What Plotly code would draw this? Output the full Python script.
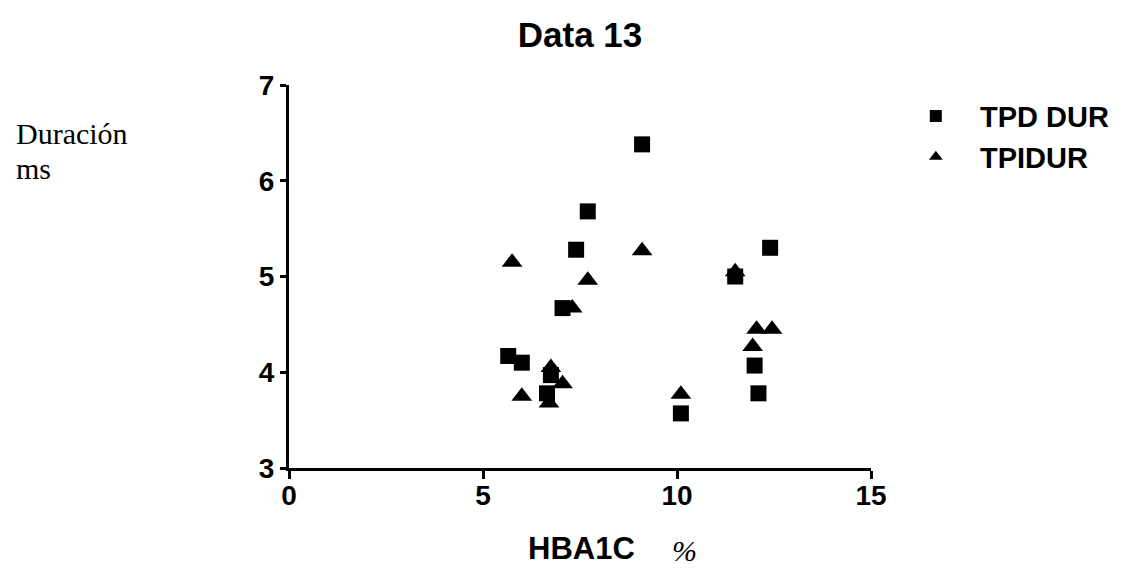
import plotly.graph_objects as go

# Data
tpd_x = [9.1, 7.7, 7.4, 12.4, 11.5, 7.05, 5.65, 6.0, 6.65, 6.75, 12.0, 12.1, 10.1]
tpd_y = [6.38, 5.68, 5.28, 5.3, 5.0, 4.67, 4.17, 4.1, 3.78, 3.97, 4.07, 3.78, 3.57]

tpi_x = [5.75, 9.1, 7.7, 7.3, 11.5, 12.05, 12.45, 11.95, 10.1, 6.0, 6.75, 7.05, 6.7]
tpi_y = [5.15, 5.27, 4.96, 4.67, 5.05, 4.45, 4.45, 4.27, 3.77, 3.75, 4.05, 3.88, 3.68]

x_ticks = [0, 5, 10, 15]
y_ticks = [3, 4, 5, 6, 7]

fig = go.Figure()
fig.add_trace(go.Scatter(
    x=tpd_x, y=tpd_y, mode="markers", name="&nbsp;&nbsp;&nbsp;<b>TPD DUR</b>",
    marker=dict(symbol="square", size=16, color="black"),
))
fig.add_trace(go.Scatter(
    x=tpi_x, y=tpi_y, mode="markers", name="&nbsp;&nbsp;&nbsp;<b>TPIDUR</b>",
    marker=dict(symbol="triangle-up", size=18, color="black"),
))

bold_font = dict(family="Arial, Liberation Sans, sans-serif", size=28, color="black")

fig.update_layout(
    width=1129, height=572,
    margin=dict(l=289, r=258, t=85, b=104),
    paper_bgcolor="white", plot_bgcolor="white",
    title=dict(text="<b>Data 13</b>", x=0.5, xref="paper", y=0.94, yref="container",
               xanchor="center", yanchor="middle",
               font=dict(family="Arial, Liberation Sans, sans-serif", size=35, color="black")),
    showlegend=True,
    legend=dict(x=1.077, y=0.985, xanchor="left", yanchor="top",
                font=dict(family="Arial, Liberation Sans, sans-serif", size=29, color="black"),
                bgcolor="rgba(0,0,0,0)", itemsizing="constant", tracegroupgap=0),
    xaxis=dict(range=[0, 15], tickvals=x_ticks, ticktext=[f"<b>{v}</b>" for v in x_ticks],
               showgrid=False, zeroline=False, showline=True, linecolor="black", linewidth=3,
               ticks="outside", ticklen=8, tickwidth=3, tickcolor="black",
               tickfont=bold_font, ticklabelstandoff=-8),
    yaxis=dict(range=[3, 7], tickvals=y_ticks, ticktext=[f"<b>{v}</b>" for v in y_ticks],
               showgrid=False, zeroline=False, showline=True, linecolor="black", linewidth=3,
               ticks="outside", ticklen=6, tickwidth=3, tickcolor="black",
               tickfont=bold_font),
)

fig.add_annotation(text="<b>HBA1C</b>", x=581, y=548, xref="paper", yref="paper",
                   xanchor="center", yanchor="middle",
                   showarrow=False, font=dict(family="Arial, Liberation Sans, sans-serif", size=31, color="black"))
fig.add_annotation(text="<i>%</i>", x=684, y=550, xref="paper", yref="paper",
                   xanchor="center", yanchor="middle",
                   showarrow=False, font=dict(family="Liberation Serif, Times New Roman, serif", size=30, color="black"))
fig.add_annotation(text="Duración", x=14, y=133, xref="paper", yref="paper",
                   xanchor="left", yanchor="middle", showarrow=False,
                   font=dict(family="Liberation Serif, Times New Roman, serif", size=30, color="black"))
fig.add_annotation(text="ms", x=14, y=168, xref="paper", yref="paper",
                   xanchor="left", yanchor="middle", showarrow=False,
                   font=dict(family="Liberation Serif, Times New Roman, serif", size=30, color="black"))

# convert pixel positions of annotations to paper coords
pw = 1129 - 289 - 258
ph = 572 - 85 - 104
for ann in fig.layout.annotations:
    ann.x = (ann.x - 289) / pw
    ann.y = (572 - 104 - ann.y) / ph

fig.write_html("out.html")
